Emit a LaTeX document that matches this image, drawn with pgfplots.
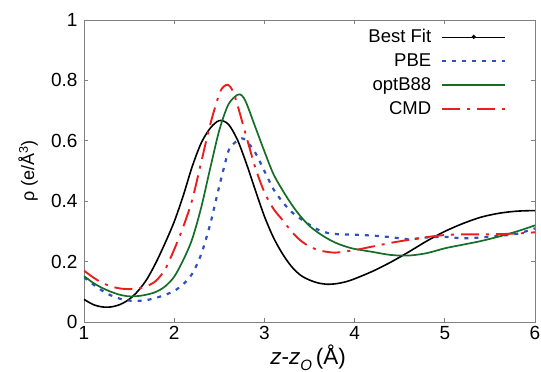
\documentclass[border=0pt]{standalone}
\usepackage{pgfplots}
\pgfplotsset{compat=1.18}
\usepackage{fontspec}
\setmainfont{Liberation Sans}
\definecolor{pbeblue}{RGB}{50,80,190}
\definecolor{optgreen}{RGB}{20,110,40}
\definecolor{cmdred}{RGB}{235,30,30}
\begin{document}
\begin{tikzpicture}
\begin{axis}[
  scale only axis,
  width=451pt, height=302pt,
  xmin=1, xmax=6, ymin=0, ymax=1,
  xtick={1,2,3,4,5,6},
  ytick={0,0.2,0.4,0.6,0.8,1},
  /pgf/number format/assume math mode=true,
  tick label style={font=\fontsize{19}{21}\selectfont},
  yticklabel style={/pgf/number format/fixed, xshift=-3pt},
  xticklabel style={yshift=-1pt},
  tick align=inside,
  major tick length=4pt,
  axis line style={gray, line width=0.8pt},
  tick style={gray, line width=0.8pt},
  xlabel={\textit{z}-\textit{z}\raisebox{-0.45ex}{\fontsize{15}{16}\selectfont\textit{O}}\,(Å)},
  ylabel={ρ (e/Å\textsuperscript{3})},
  every axis x label/.style={at={(axis description cs:0.497,-0.142)}, anchor=base, font=\fontsize{22.5}{24}\selectfont},
  every axis y label/.style={at={(axis description cs:-0.124,0.5)}, rotate=90, anchor=center, font=\fontsize{18}{20}\selectfont},
  legend style={draw=none, fill=none, at={(axis description cs:0.937,0.976)}, anchor=north east,
    font=\fontsize{18.5}{20}\selectfont, row sep=5.5pt, column sep=8pt, inner sep=0pt, legend cell align=right},
  legend plot pos=right,
  legend image code/.code={\draw[#1] (0pt,0pt) -- (63pt,0pt);},
]
\addplot[black, line width=1.6pt, smooth, tension=0.5,
  legend image code/.code={\draw[black, line width=0.4pt] (0pt,0pt) -- (63pt,0pt); \fill[black] (31.5pt,0pt) circle (1.1pt);}]
coordinates {(1.0,0.075) (1.1,0.058) (1.2,0.050) (1.3,0.050) (1.4,0.058) (1.5,0.075) (1.6,0.103) (1.7,0.143) (1.8,0.198) (1.9,0.262) (2.0,0.332) (2.1,0.418) (2.2,0.515) (2.3,0.593) (2.4,0.642) (2.5,0.667) (2.6,0.655) (2.7,0.604) (2.8,0.525) (2.9,0.436) (3.0,0.350) (3.1,0.280) (3.2,0.226) (3.3,0.184) (3.4,0.155) (3.5,0.139) (3.6,0.129) (3.7,0.125) (3.8,0.127) (3.9,0.133) (4.0,0.143) (4.2,0.168) (4.4,0.198) (4.6,0.232) (4.8,0.268) (5.0,0.300) (5.2,0.326) (5.4,0.347) (5.6,0.360) (5.8,0.367) (6.0,0.369)};
\addlegendentry{Best Fit}
\addplot[pbeblue, line width=2.2pt, dash pattern=on 4pt off 6pt, smooth, tension=0.5]
coordinates {(1.0,0.148) (1.1,0.125) (1.2,0.104) (1.3,0.088) (1.4,0.077) (1.5,0.071) (1.6,0.070) (1.7,0.073) (1.8,0.080) (1.9,0.090) (2.0,0.103) (2.1,0.125) (2.2,0.160) (2.3,0.225) (2.4,0.325) (2.5,0.450) (2.6,0.565) (2.65,0.588) (2.7,0.600) (2.75,0.608) (2.8,0.600) (2.9,0.560) (3.0,0.500) (3.1,0.440) (3.2,0.398) (3.3,0.365) (3.4,0.342) (3.5,0.322) (3.6,0.305) (3.7,0.295) (3.8,0.291) (4.0,0.289) (4.2,0.286) (4.4,0.281) (4.6,0.274) (4.8,0.280) (5.0,0.282) (5.2,0.277) (5.4,0.280) (5.6,0.285) (5.8,0.292) (6.0,0.310)};
\addlegendentry{PBE}
\addplot[optgreen, line width=1.7pt, smooth, tension=0.5,
  legend image code/.code={\draw[optgreen, line width=1.7pt] (0pt,0pt) -- (63pt,0pt);}]
coordinates {(1.0,0.152) (1.1,0.130) (1.2,0.113) (1.3,0.100) (1.4,0.090) (1.5,0.085) (1.6,0.086) (1.7,0.091) (1.8,0.100) (1.9,0.118) (2.0,0.150) (2.1,0.205) (2.2,0.275) (2.3,0.380) (2.4,0.510) (2.5,0.635) (2.6,0.720) (2.7,0.752) (2.75,0.750) (2.8,0.725) (2.9,0.645) (3.0,0.565) (3.1,0.490) (3.2,0.437) (3.3,0.390) (3.4,0.350) (3.5,0.318) (3.6,0.295) (3.7,0.276) (3.8,0.261) (3.9,0.250) (4.0,0.242) (4.2,0.232) (4.4,0.222) (4.6,0.220) (4.8,0.228) (5.0,0.244) (5.2,0.256) (5.4,0.268) (5.6,0.283) (5.8,0.300) (6.0,0.320)};
\addlegendentry{optB88}
\addplot[cmdred, line width=1.9pt, dash pattern=on 18pt off 7pt on 3pt off 7pt, smooth, tension=0.5]
coordinates {(1.0,0.170) (1.1,0.148) (1.2,0.130) (1.3,0.118) (1.4,0.111) (1.5,0.109) (1.6,0.111) (1.7,0.119) (1.8,0.137) (1.9,0.175) (2.0,0.240) (2.1,0.315) (2.2,0.405) (2.3,0.530) (2.4,0.655) (2.5,0.755) (2.55,0.780) (2.6,0.785) (2.65,0.765) (2.7,0.720) (2.8,0.614) (2.9,0.510) (3.0,0.430) (3.1,0.375) (3.2,0.338) (3.3,0.300) (3.4,0.270) (3.5,0.250) (3.6,0.238) (3.7,0.232) (3.8,0.230) (4.0,0.238) (4.2,0.250) (4.4,0.262) (4.6,0.272) (4.8,0.281) (5.0,0.288) (5.2,0.290) (5.4,0.290) (5.6,0.291) (5.8,0.293) (6.0,0.297)};
\addlegendentry{CMD}
\end{axis}
\pgfresetboundingbox
\path ([xshift=-84pt,yshift=-50pt]current axis.south west) rectangle ([xshift=6pt,yshift=20pt]current axis.north east);
\end{tikzpicture}
\end{document}
